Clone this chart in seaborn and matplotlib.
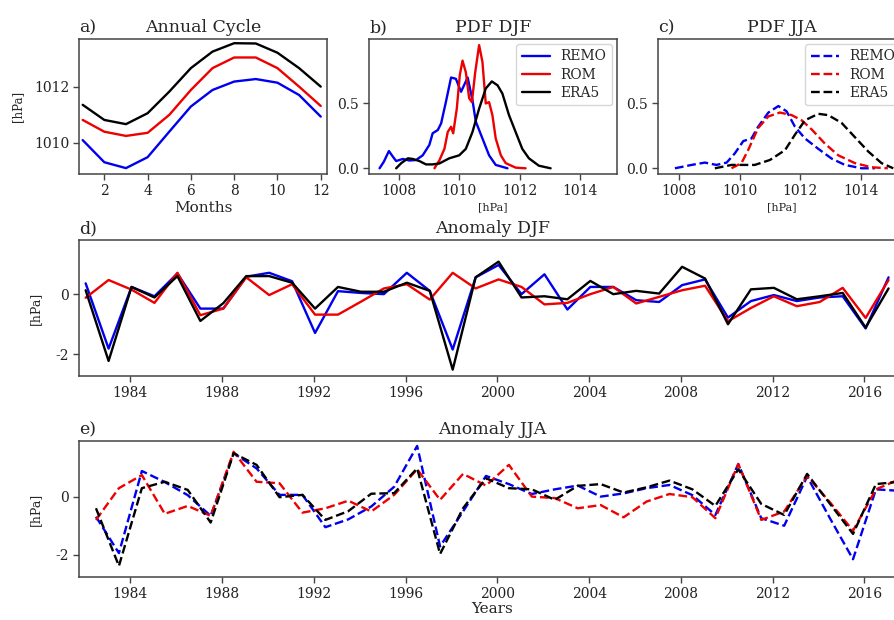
import numpy as np
import pandas as pd
import matplotlib
matplotlib.use("Agg")
import matplotlib.pyplot as plt
import seaborn as sns

# ---------------- data ----------------
months = list(range(1, 13))
cycle_remo = [1010.09, 1009.30, 1009.09, 1009.48, 1010.39, 1011.29, 1011.88, 1012.18, 1012.27, 1012.14, 1011.70, 1010.93]
cycle_rom = [1010.81, 1010.39, 1010.24, 1010.35, 1010.99, 1011.88, 1012.66, 1013.04, 1013.04, 1012.66, 1012.00, 1011.31]
cycle_era5 = [1011.35, 1010.81, 1010.66, 1011.05, 1011.82, 1012.66, 1013.25, 1013.55, 1013.54, 1013.21, 1012.66, 1012.00]

# PDF DJF (x in hPa, density)
pdf_djf_remo_x = [1007.36, 1007.50, 1007.67, 1007.80, 1007.91, 1008.13, 1008.35, 1008.57, 1008.79, 1009.01, 1009.12,
                  1009.29, 1009.40, 1009.56, 1009.73, 1009.89, 1010.06, 1010.28, 1010.44, 1010.55, 1010.77, 1010.99,
                  1011.21, 1011.60]
pdf_djf_remo_y = [0.00, 0.05, 0.133, 0.09, 0.056, 0.072, 0.06, 0.064, 0.10, 0.18, 0.27,
                  0.295, 0.346, 0.513, 0.70, 0.69, 0.59, 0.70, 0.525, 0.36, 0.23, 0.10,
                  0.026, 0.00]
pdf_djf_rom_x = [1009.18, 1009.34, 1009.51, 1009.62, 1009.73, 1009.80, 1009.92, 1010.02, 1010.11, 1010.22, 1010.33,
                 1010.42, 1010.53, 1010.66, 1010.77, 1010.88, 1010.99, 1011.10, 1011.21, 1011.38, 1011.54, 1011.87,
                 1012.20]
pdf_djf_rom_y = [0.00, 0.06, 0.15, 0.28, 0.32, 0.27, 0.46, 0.72, 0.83, 0.74, 0.54,
                 0.51, 0.74, 0.95, 0.82, 0.50, 0.51, 0.41, 0.23, 0.10, 0.04, 0.005,
                 0.00]
pdf_djf_era5_x = [1007.91, 1008.08, 1008.30, 1008.46, 1008.68, 1008.90, 1009.12, 1009.34, 1009.67, 1010.00, 1010.22,
                  1010.44, 1010.66, 1010.88, 1011.08, 1011.27, 1011.43, 1011.65, 1011.87, 1012.09, 1012.31, 1012.64,
                  1013.03]
pdf_djf_era5_y = [0.00, 0.04, 0.077, 0.072, 0.056, 0.03, 0.03, 0.037, 0.077, 0.10, 0.15,
                  0.28, 0.46, 0.615, 0.67, 0.64, 0.577, 0.41, 0.28, 0.15, 0.077, 0.02,
                  0.00]

# PDF JJA
pdf_jja_remo_x = [1007.86, 1008.41, 1008.85, 1009.23, 1009.57, 1009.84, 1010.12, 1010.39, 1010.61, 1010.95, 1011.28,
                  1011.55, 1011.83, 1012.16, 1012.60, 1013.04, 1013.48, 1014.03, 1014.47]
pdf_jja_remo_y = [0.00, 0.026, 0.044, 0.026, 0.044, 0.115, 0.21, 0.23, 0.32, 0.43, 0.48,
                  0.44, 0.32, 0.23, 0.15, 0.075, 0.026, 0.00, 0.00]
pdf_jja_rom_x = [1009.73, 1010.06, 1010.28, 1010.61, 1010.95, 1011.33, 1011.72, 1012.05, 1012.38, 1012.82, 1013.26,
                 1013.81, 1014.36, 1014.90]
pdf_jja_rom_y = [0.00, 0.04, 0.14, 0.31, 0.40, 0.43, 0.41, 0.37, 0.30, 0.19, 0.10,
                 0.04, 0.008, 0.00]
pdf_jja_era5_x = [1009.18, 1009.73, 1010.50, 1011.00, 1011.50, 1011.83, 1012.16, 1012.60, 1012.93, 1013.37, 1013.81,
                  1014.25, 1014.69, 1015.08]
pdf_jja_era5_y = [0.00, 0.026, 0.026, 0.064, 0.14, 0.26, 0.37, 0.42, 0.41, 0.35, 0.24,
                  0.13, 0.04, 0.00]

years = list(range(1982, 2018))
djf_remo = [0.36, -1.81, 0.24, -0.07, 0.69, -0.48, -0.48, 0.58, 0.71, 0.43, -1.29, 0.10, 0.04, 0.00, 0.71, 0.11,
            -1.84, 0.56, 0.97, 0.00, 0.66, -0.51, 0.24, 0.24, -0.20, -0.26, 0.30, 0.49, -0.78, -0.23, -0.03, -0.23,
            -0.11, -0.07, -1.14, 0.56]
djf_rom = [-0.12, 0.47, 0.15, -0.29, 0.71, -0.70, -0.48, 0.56, -0.03, 0.33, -0.68, -0.68, -0.25, 0.19, 0.33, -0.18,
           0.71, 0.19, 0.49, 0.24, -0.34, -0.29, 0.00, 0.24, -0.31, -0.09, 0.13, 0.28, -0.90, -0.46, -0.07, -0.40,
           -0.26, 0.21, -0.79, 0.47]
djf_era5 = [0.13, -2.22, 0.24, -0.11, 0.60, -0.89, -0.30, 0.60, 0.60, 0.38, -0.48, 0.24, 0.08, 0.08, 0.38, 0.11,
            -2.51, 0.56, 1.08, -0.11, -0.07, -0.17, 0.44, 0.00, 0.11, 0.02, 0.91, 0.52, -1.00, 0.16, 0.21, -0.17,
            -0.07, 0.04, -1.11, 0.19]

jja_remo = [-0.69, -1.94, 0.88, 0.50, 0.05, -0.66, 1.49, 0.97, 0.06, 0.06, -1.05, -0.78, -0.34, 0.34, 1.74, -1.71,
            -0.51, 0.71, 0.43, 0.09, 0.25, 0.38, 0.00, 0.11, 0.29, 0.40, 0.05, -0.63, 1.12, -0.74, -1.00, 0.69,
            -0.75, -2.15, 0.25, 0.20]
jja_rom = [-0.80, 0.29, 0.74, -0.59, -0.32, -0.66, 1.54, 0.51, 0.46, -0.55, -0.40, -0.14, -0.51, 0.06, 0.94, -0.11,
           0.78, 0.38, 1.09, 0.00, -0.05, -0.40, -0.29, -0.71, -0.17, 0.09, -0.02, -0.74, 1.12, -0.80, -0.51, 0.71,
           -0.20, -1.17, 0.25, 0.59]
jja_era5 = [-0.40, -2.38, 0.29, 0.51, 0.23, -0.89, 1.49, 1.09, -0.02, 0.06, -0.80, -0.50, 0.10, 0.12, 0.97, -1.97,
            -0.40, 0.63, 0.29, 0.25, -0.11, 0.37, 0.43, 0.14, 0.32, 0.55, 0.25, -0.32, 0.94, -0.25, -0.63, 0.78,
            -0.25, -1.28, 0.43, 0.51]

models = ["REMO", "ROM", "ERA5"]
colors = {"REMO": "#0000ee", "ROM": "#ee0000", "ERA5": "black"}

# ---------------- style ----------------
sns.set_theme(style="ticks")
plt.rcParams["font.family"] = ["DejaVu Serif"]
plt.rcParams["axes.edgecolor"] = "#444444"
plt.rcParams["axes.linewidth"] = 1.1
plt.rcParams["xtick.color"] = "#444444"
plt.rcParams["ytick.color"] = "#444444"
plt.rcParams["xtick.labelcolor"] = "#222222"
plt.rcParams["ytick.labelcolor"] = "#222222"
plt.rcParams["xtick.labelsize"] = 10
plt.rcParams["ytick.labelsize"] = 10
plt.rcParams["axes.unicode_minus"] = False

W, H = 894, 620
fig = plt.figure(figsize=(W / 100, H / 100), dpi=100)


def add_ax(left, right, top, bottom):
    return fig.add_axes([left / W, 1 - bottom / H, (right - left) / W, (bottom - top) / H])


ax_a = add_ax(79, 327, 39, 174)
ax_b = add_ax(369, 617, 39, 174)
ax_c = add_ax(658, 906, 39, 174)
ax_d = add_ax(79, 906, 240, 376)
ax_e = add_ax(79, 906, 441, 577)

lw = 1.7
TS = 12.5

# a) annual cycle
cyc = {"REMO": cycle_remo, "ROM": cycle_rom, "ERA5": cycle_era5}
for m in models:
    sns.lineplot(x=months, y=cyc[m], color=colors[m], lw=lw, ax=ax_a, estimator=None)
ax_a.set_xlim(0.83, 12.29)
ax_a.set_ylim(1008.88, 1013.70)
ax_a.set_xticks([2, 4, 6, 8, 10, 12])
ax_a.set_yticks([1010, 1012])
ax_a.set_xlabel("Months", fontsize=11, labelpad=2)
ax_a.set_ylabel("[hPa]", fontsize=8.5, labelpad=7)
ax_a.set_title("Annual Cycle", fontsize=TS, pad=5)
ax_a.set_title("a)", loc="left", fontsize=TS, pad=5)

# b) PDF DJF
pdf_djf = {"REMO": (pdf_djf_remo_x, pdf_djf_remo_y), "ROM": (pdf_djf_rom_x, pdf_djf_rom_y),
           "ERA5": (pdf_djf_era5_x, pdf_djf_era5_y)}
for m in models:
    xs, ys = pdf_djf[m]
    sns.lineplot(x=xs, y=ys, color=colors[m], lw=lw, ax=ax_b, label=m, estimator=None, sort=False)
ax_b.set_xlim(1007.01, 1015.23)
ax_b.set_ylim(-0.044, 0.997)
ax_b.set_xticks([1008, 1010, 1012, 1014])
ax_b.set_yticks([0.0, 0.5])
ax_b.set_xlabel("[hPa]", fontsize=8, labelpad=3)
ax_b.set_title("PDF DJF", fontsize=TS, pad=5)
ax_b.set_title("b)", loc="left", fontsize=TS, pad=5)
ax_b.legend(loc="upper right", fontsize=10, frameon=True, borderaxespad=0.35, labelspacing=0.3,
            handlelength=2.0, fancybox=True)

# c) PDF JJA
pdf_jja = {"REMO": (pdf_jja_remo_x, pdf_jja_remo_y), "ROM": (pdf_jja_rom_x, pdf_jja_rom_y),
           "ERA5": (pdf_jja_era5_x, pdf_jja_era5_y)}
for m in models:
    xs, ys = pdf_jja[m]
    sns.lineplot(x=xs, y=ys, color=colors[m], lw=lw, ax=ax_c, label=m, estimator=None, sort=False,
                 linestyle="--")
ax_c.set_xlim(1007.3, 1015.5)
ax_c.set_ylim(-0.044, 0.997)
ax_c.set_xticks([1008, 1010, 1012, 1014])
ax_c.set_yticks([0.0, 0.5])
ax_c.set_xlabel("[hPa]", fontsize=8, labelpad=3)
ax_c.set_title("PDF JJA", fontsize=TS, pad=5)
ax_c.set_title("c)", loc="left", fontsize=TS, pad=5)
ax_c.legend(loc="upper right", fontsize=10, frameon=True, borderaxespad=0.35, labelspacing=0.3,
            handlelength=2.0, fancybox=True)

# d) anomaly DJF
djf = {"REMO": djf_remo, "ROM": djf_rom, "ERA5": djf_era5}
djf_x = [y + 0.05 for y in years]
for m in models:
    sns.lineplot(x=djf_x, y=djf[m], color=colors[m], lw=lw, ax=ax_d, estimator=None)
ax_d.set_xlim(1981.76, 2017.81)
ax_d.set_ylim(-2.72, 1.80)
ax_d.set_xticks(list(range(1984, 2017, 4)))
ax_d.set_yticks([-2, 0])
ax_d.set_ylabel("[hPa]", fontsize=9, labelpad=10)
ax_d.set_title("Anomaly DJF", fontsize=TS, pad=5)
ax_d.set_title("d)", loc="left", fontsize=TS, pad=5)

# e) anomaly JJA
jja = {"REMO": jja_remo, "ROM": jja_rom, "ERA5": jja_era5}
jja_x = [y + 0.5 for y in years]
for m in models:
    sns.lineplot(x=jja_x, y=jja[m], color=colors[m], lw=lw, ax=ax_e, estimator=None, linestyle="--")
ax_e.set_xlim(1981.76, 2017.81)
ax_e.set_ylim(-2.76, 1.91)
ax_e.set_xticks(list(range(1984, 2017, 4)))
ax_e.set_yticks([-2, 0])
ax_e.set_ylabel("[hPa]", fontsize=9, labelpad=10)
ax_e.set_xlabel("Years", fontsize=11, labelpad=1)
ax_e.set_title("Anomaly JJA", fontsize=TS, pad=5)
ax_e.set_title("e)", loc="left", fontsize=TS, pad=5)

for ax in [ax_a, ax_b, ax_c, ax_d, ax_e]:
    ax.tick_params(length=4, width=1, pad=3)

fig.savefig("out.png", dpi=100)
